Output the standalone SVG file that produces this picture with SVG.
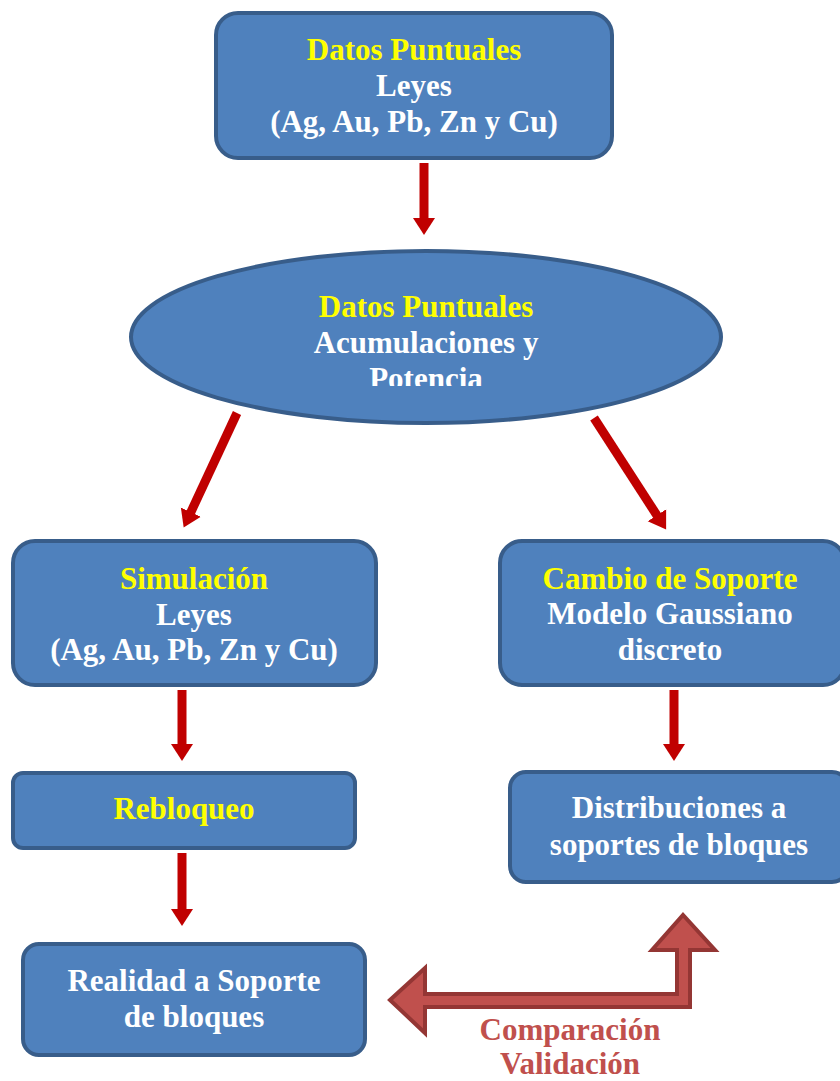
<svg xmlns="http://www.w3.org/2000/svg" width="840" height="1081" viewBox="0 0 840 1081">
<style>
.box{fill:#4F81BD;stroke:#385D8A;stroke-width:4}
.t{font-family:"Liberation Serif","Times New Roman",serif;font-weight:bold;font-size:31px;text-anchor:middle;fill:#FFFFFF}
.y{fill:#FFFF00}
.c{fill:#C0504D}
.arr{stroke:#C00000;stroke-width:9;fill:none}
</style>
<defs>
<marker id="ah" markerUnits="userSpaceOnUse" markerWidth="26" markerHeight="26" refX="2" refY="13" orient="auto">
<path d="M0,2 L17,13 L0,24 Z" fill="#C00000"/>
</marker>
<clipPath id="clipE"><rect x="0" y="0" width="840" height="386"/></clipPath>
</defs>
<rect width="840" height="1081" fill="#FFFFFF"/>
<g id="n1">
<rect class="box" x="216" y="13" width="396" height="145" rx="22"/>
<text class="t y" x="414" y="60">Datos Puntuales</text>
<text class="t" x="414" y="96">Leyes</text>
<text class="t" x="414" y="132">(Ag, Au, Pb, Zn y Cu)</text>
</g>
<g id="n2">
<ellipse class="box" cx="426" cy="337" rx="295" ry="86"/>
<text class="t y" x="426" y="317">Datos Puntuales</text>
<text class="t" x="426" y="353">Acumulaciones y</text>
<text class="t" x="426" y="389" clip-path="url(#clipE)">Potencia</text>
</g>
<g id="n3">
<rect class="box" x="13" y="541" width="363" height="144" rx="22"/>
<text class="t y" x="194" y="589">Simulación</text>
<text class="t" x="194" y="625">Leyes</text>
<text class="t" x="194" y="660">(Ag, Au, Pb, Zn y Cu)</text>
</g>
<g id="n4">
<rect class="box" x="500" y="541" width="345" height="144" rx="22"/>
<text class="t y" x="670" y="589">Cambio de Soporte</text>
<text class="t" x="670" y="624">Modelo Gaussiano</text>
<text class="t" x="670" y="660">discreto</text>
</g>
<g id="n5">
<rect class="box" x="13" y="773" width="342" height="75" rx="10"/>
<text class="t y" x="184" y="819">Rebloqueo</text>
</g>
<g id="n6">
<rect class="box" x="510" y="772" width="338" height="110" rx="16"/>
<text class="t" x="679" y="818">Distribuciones a</text>
<text class="t" x="679" y="855">soportes de bloques</text>
</g>
<g id="n7">
<rect class="box" x="23" y="944" width="342" height="111" rx="16"/>
<text class="t" x="194" y="991">Realidad a Soporte</text>
<text class="t" x="194" y="1027">de bloques</text>
</g>
<g id="connectors">
<line class="arr" x1="424" y1="163" x2="424" y2="220" marker-end="url(#ah)"/>
<line class="arr" x1="237" y1="413" x2="190" y2="514" marker-end="url(#ah)"/>
<line class="arr" x1="594" y1="418" x2="658" y2="517" marker-end="url(#ah)"/>
<line class="arr" x1="182" y1="690" x2="182" y2="746" marker-end="url(#ah)"/>
<line class="arr" x1="674" y1="690" x2="674" y2="746" marker-end="url(#ah)"/>
<line class="arr" x1="182" y1="853" x2="182" y2="911" marker-end="url(#ah)"/>
<polygon points="390,1000 425,968 425,994 677,994 677,950 652,950 683,915 715,950 690,950 690,1007 425,1007 425,1033" fill="#C0504D" stroke="#943634" stroke-width="4" stroke-linejoin="miter"/>
</g>
<g id="label">
<text class="t c" x="570" y="1040">Comparación</text>
<text class="t c" x="570" y="1074">Validación</text>
</g>
</svg>
